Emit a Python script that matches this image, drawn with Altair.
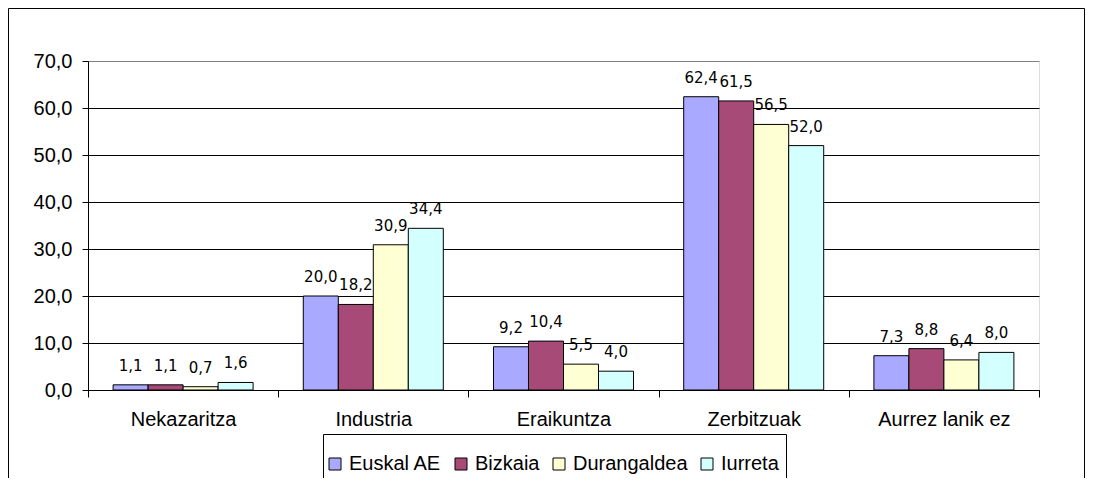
import altair as alt
import pandas as pd

categories = ["Nekazaritza", "Industria", "Eraikuntza", "Zerbitzuak", "Aurrez lanik ez"]
series = ["Euskal AE", "Bizkaia", "Durangaldea", "Iurreta"]
euskal_ae = [1.1, 20.0, 9.2, 62.4, 7.3]
bizkaia = [1.1, 18.2, 10.4, 61.5, 8.8]
durangaldea = [0.7, 30.9, 5.5, 56.5, 6.4]
iurreta = [1.6, 34.4, 4.0, 52.0, 8.0]
colors = ["#A9A9FF", "#A84A78", "#FFFFD4", "#D4FFFF"]
y_ticks = [0, 10, 20, 30, 40, 50, 60, 70]

rows = []
for s, vals in zip(series, [euskal_ae, bizkaia, durangaldea, iurreta]):
    for c, v in zip(categories, vals):
        rows.append({"cat": c, "series": s, "value": v})
df = pd.DataFrame(rows)

W, H = 951, 329
PAD = {"left": 80, "top": 53, "right": 46, "bottom": 88}
FONT = "Liberation Sans"
FS = 20

base = alt.Chart(df).encode(
    x=alt.X(
        "cat:N",
        sort=categories,
        scale=alt.Scale(paddingInner=0, paddingOuter=0),
        axis=alt.Axis(
            title=None,
            labelAngle=0,
            tickBand="extent",
            tickSize=7,
            labelPadding=12,
            domainColor="black",
            tickColor="black",
            labelFont=FONT,
            labelFontSize=FS,
            labelColor="black",
            grid=False,
        ),
    ),
    xOffset=alt.XOffset("series:N", sort=series,
                        scale=alt.Scale(paddingInner=0, paddingOuter=0.717)),
    y=alt.Y(
        "value:Q",
        scale=alt.Scale(domain=[0, 70], nice=False),
        axis=alt.Axis(
            title=None,
            values=y_ticks,
            labelExpr="replace(format(datum.value, '.1f'), '.', ',')",
            grid=True,
            gridColor={"condition": {"test": "datum.value === 70", "value": "#808080"},
                       "value": "#000000"},
            gridWidth=1,
            tickSize=6,
            labelPadding=10,
            domainColor="black",
            tickColor="black",
            labelFont=FONT,
            labelFontSize=FS,
            labelColor="black",
        ),
    ),
)

bars = base.mark_bar(stroke="black", strokeWidth=1).encode(
    color=alt.Color(
        "series:N",
        sort=series,
        scale=alt.Scale(domain=series, range=colors),
        legend=alt.Legend(
            title=None,
            orient="none",
            legendX=237,
            legendY=393,
            direction="horizontal",
            columns=4,
            symbolType="square",
            symbolSize=144,
            symbolStrokeColor="black",
            symbolStrokeWidth=1,
            symbolOpacity=1,
            labelFont=FONT,
            labelFontSize=FS,
            labelColor="black",
            labelOffset=4,
            columnPadding=9,
            padding=0,
        ),
    )
)

labels = base.transform_calculate(
    label="replace(format(datum.value, '.1f'), '.', ',')"
).mark_text(
    baseline="alphabetic", dy=-14, font="DejaVu Sans", fontSize=15, color="black"
).encode(text="label:N")

deco = alt.Chart(pd.DataFrame({"k": [0]}))
frame = deco.mark_rect(fillOpacity=0, stroke="black", strokeWidth=1).encode(
    x=alt.value(-PAD["left"] + 0.5),
    x2=alt.value(W + PAD["right"] - 0.5),
    y=alt.value(-PAD["top"] + 0.5),
    y2=alt.value(H + 200),
)
legend_box = deco.mark_rect(fill="white", stroke="black", strokeWidth=1).encode(
    x=alt.value(235.5),
    x2=alt.value(698.5),
    y=alt.value(373.5),
    y2=alt.value(H + 200),
)

chart = alt.layer(frame, legend_box, bars, labels).properties(
    width=W,
    height=H,
    padding=PAD,
    autosize=alt.AutoSizeParams(type="none"),
).configure_view(
    fill="#CCCCCC", stroke="#808080", strokeWidth=1
).configure(background="white")

chart.save("out.html", embed_options={"renderer": "svg", "actions": False})
